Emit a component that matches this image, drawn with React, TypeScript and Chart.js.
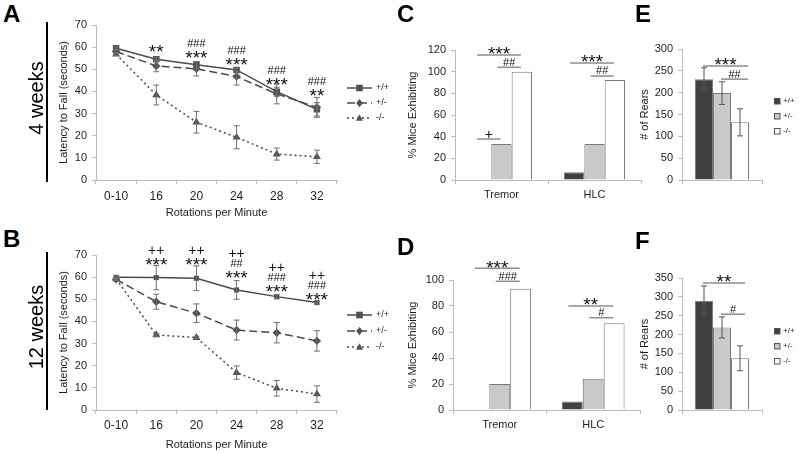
import React, { useEffect, useRef } from 'react';
import { Chart, registerables } from 'chart.js';

Chart.register(...registerables);

const FONT = '"Liberation Sans", Arial, Helvetica, sans-serif';
const AXIS = '#bdbdbd';
const TEXT = '#1e1e1e';
const LINE = '#4a4a4a';
const MARK = '#525252';

// ---------------- data ----------------
const rpmLabels = ['0-10', '16', '20', '24', '28', '32'];
const genotypeLabels = ['+/+', '+/-', '-/-'];

// Panel A (4 weeks) latency to fall
const wk4Wt = [59.5, 54.5, 52.0, 49.7, 39.9, 31.9];
const wk4WtErr = [0.6, 1.0, 1.5, 0.8, 2.0, 3.0];
const wk4Het = [58.0, 51.5, 50.2, 46.7, 38.9, 32.8];
const wk4HetErr = [0.8, 2.6, 3.2, 3.8, 4.5, 4.5];
const wk4Ko = [56.8, 38.4, 26.1, 19.3, 11.7, 10.5];
const wk4KoErr = [0.6, 4.5, 4.9, 5.2, 2.7, 3.0];
const wk4Sig = [[], ['**'], ['###', '***'], ['###', '***'], ['###', '***'], ['###', '**']];
const wk4SigAt = [0, 60.0, 57.3, 54.0, 45.3, 40.2];

// Panel B (12 weeks) latency to fall
const wk12Wt = [59.9, 59.8, 59.5, 54.2, 51.2, 48.5];
const wk12WtErr = [0.5, 5.5, 5.6, 4.2, 1.0, 0.6];
const wk12Het = [59.0, 48.9, 43.7, 36.1, 34.9, 31.2];
const wk12HetErr = [0.5, 3.4, 4.2, 4.5, 4.6, 4.6];
const wk12Ko = [59.2, 33.9, 32.7, 16.9, 9.8, 7.2];
const wk12KoErr = [0.5, 0.6, 0.6, 3.0, 3.5, 3.7];
const wk12Sig = [[], ['++', '***'], ['++', '***'], ['++', '##', '***'], ['++', '###', '***'], ['++', '###', '***']];
const wk12SigAt = [0, 67.7, 67.7, 61.9, 55.5, 51.9];

// Panel C / D (% mice exhibiting)
const phenoLabels = ['Tremor', 'HLC'];
const c4Wt = [0, 7.1];
const c4Het = [33.3, 33.3];
const c4Ko = [100, 92.3];
const c4Brackets = [
  { cat: 0, from: 0, to: 2, at: 115.4, text: '***' },
  { cat: 0, from: 1, to: 2, at: 104, text: '##' },
  { cat: 0, from: 0, to: 1, at: 37.8, text: '+' },
  { cat: 1, from: 0, to: 2, at: 108, text: '***' },
  { cat: 1, from: 1, to: 2, at: 96, text: '##' },
];
const d12Wt = [0, 6.5];
const d12Het = [20, 24];
const d12Ko = [93.3, 66.7];
const d12Brackets = [
  { cat: 0, from: 0, to: 2, at: 109, text: '***' },
  { cat: 0, from: 1, to: 2, at: 99, text: '###' },
  { cat: 1, from: 0, to: 2, at: 80, text: '**' },
  { cat: 1, from: 1, to: 2, at: 71, text: '#' },
];

// Panel E / F (# of rears), by genotype
const rearsCategory = [''];
const e4Rears = [231, 199, 132];
const e4RearsErr = [26, 26, 31];
const e4Brackets = [
  { cat: 0, from: 0, to: 2, at: 261, text: '***' },
  { cat: 0, from: 1, to: 2, at: 231, text: '##' },
];
const f12Rears = [290, 219, 137];
const f12RearsErr = [39, 28, 33];
const f12Brackets = [
  { cat: 0, from: 0, to: 2, at: 337, text: '**' },
  { cat: 0, from: 1, to: 2, at: 254, text: '#' },
];

// ---------------- layout ----------------
type Area = { x1: number; y1: number; x2: number; y2: number };
type Box = { left: number; top: number; width: number; height: number; area: Area };

const boxA: Box = { left: 40, top: 0, width: 380, height: 225, area: { x1: 96, y1: 25, x2: 337, y2: 180 } };
const boxB: Box = { left: 40, top: 228, width: 380, height: 225, area: { x1: 96, y1: 255, x2: 337, y2: 410 } };
const boxC: Box = { left: 400, top: 25, width: 255, height: 200, area: { x1: 455, y1: 50, x2: 641, y2: 180 } };
const boxD: Box = { left: 400, top: 250, width: 255, height: 203, area: { x1: 453, y1: 280, x2: 640, y2: 410 } };
const boxE: Box = { left: 625, top: 25, width: 174, height: 200, area: { x1: 682, y1: 49, x2: 762, y2: 180 } };
const boxF: Box = { left: 625, top: 250, width: 174, height: 203, area: { x1: 682, y1: 278, x2: 762, y2: 410 } };

const BAR_FILLS = ['#404040', '#c9c9c9', '#ffffff'];

function layoutFor(b: Box) {
  return {
    padding: {
      left: 0,
      top: b.area.y1 - b.top,
      right: b.left + b.width - b.area.x2,
      bottom: 0,
    },
  };
}

function yScale(b: Box, max: number, step: number, title: string, titleCx: number) {
  return {
    min: 0,
    max,
    ticks: { stepSize: step, padding: 5, color: TEXT, font: { size: 11, family: FONT } },
    grid: { drawOnChartArea: false, drawTicks: true, tickLength: 4, color: AXIS },
    border: { display: true, color: AXIS, width: 1 },
    title: {
      display: true,
      text: title,
      color: TEXT,
      font: { size: 11, family: FONT },
      padding: { top: titleCx - b.left - 6.6, bottom: 0 },
    },
    afterFit: (s: any) => {
      s.width = b.area.x1 - b.left;
    },
  };
}

function xScale(b: Box, showTicks: boolean, tickPad: number, fontSize: number, title?: string, titleCy?: number) {
  return {
    type: 'category',
    offset: true,
    grid: { offset: true, drawOnChartArea: false, drawTicks: true, tickLength: 4, color: AXIS },
    border: { display: true, color: AXIS, width: 1 },
    ticks: {
      display: showTicks,
      padding: tickPad,
      color: TEXT,
      font: { size: fontSize, family: FONT },
      maxRotation: 0,
      autoSkip: false,
    },
    title: title
      ? {
          display: true,
          text: title,
          color: TEXT,
          font: { size: 11, family: FONT },
          padding: { top: 0, bottom: b.top + b.height - (titleCy as number) - 6.6 },
        }
      : { display: false },
    afterFit: (s: any) => {
      s.height = b.top + b.height - b.area.y2;
    },
  };
}

function drawSig(ctx: CanvasRenderingContext2D, text: string, x: number, cy: number) {
  const ch = text.charAt(0);
  const size = ch === '*' ? 19 : ch === '+' ? 14 : 11;
  const lift = ch === '*' ? 0.575 : 0.36;
  ctx.font = `${size}px ${FONT}`;
  ctx.textAlign = 'center';
  ctx.textBaseline = 'alphabetic';
  ctx.fillStyle = '#111';
  ctx.fillText(text, x, cy + lift * size);
}

function drawMarker(ctx: CanvasRenderingContext2D, style: string, x: number, y: number, r: number) {
  ctx.beginPath();
  if (style === 'rect') {
    ctx.rect(x - r, y - r, 2 * r, 2 * r);
  } else if (style === 'rectRot') {
    ctx.moveTo(x, y - r * 1.25);
    ctx.lineTo(x + r, y);
    ctx.lineTo(x, y + r * 1.25);
    ctx.lineTo(x - r, y);
    ctx.closePath();
  } else {
    ctx.moveTo(x, y - r * 1.15);
    ctx.lineTo(x + r * 1.05, y + r * 0.85);
    ctx.lineTo(x - r * 1.05, y + r * 0.85);
    ctx.closePath();
  }
  ctx.fill();
}

function drawErrBar(ctx: CanvasRenderingContext2D, x: number, yTop: number, yBot: number, cap: number) {
  ctx.beginPath();
  ctx.moveTo(x, yTop);
  ctx.lineTo(x, yBot);
  ctx.moveTo(x - cap, yTop);
  ctx.lineTo(x + cap, yTop);
  ctx.moveTo(x - cap, yBot);
  ctx.lineTo(x + cap, yBot);
  ctx.stroke();
}

function lineExtras(b: Box, errs: number[][], sig: string[][], sigAt: number[], legendX: number, legendYs: number[]) {
  return {
    id: 'lineExtras',
    afterDatasetsDraw(chart: any) {
      const ctx: CanvasRenderingContext2D = chart.ctx;
      const yS = chart.scales.y;
      ctx.save();
      ctx.strokeStyle = '#6e6e6e';
      ctx.lineWidth = 1;
      chart.data.datasets.forEach((ds: any, di: number) => {
        const meta = chart.getDatasetMeta(di);
        (ds.data as number[]).forEach((v, i) => {
          const e = errs[di][i];
          const pt = meta.data[i];
          drawErrBar(ctx, pt.x, yS.getPixelForValue(v + e), yS.getPixelForValue(v - e), 3);
        });
      });
      ctx.restore();
    },
    afterDraw(chart: any) {
      const ctx: CanvasRenderingContext2D = chart.ctx;
      const xS = chart.scales.x;
      const yS = chart.scales.y;
      ctx.save();
      sig.forEach((lines, i) => {
        if (!lines.length) return;
        const x = xS.getPixelForValue(i);
        const base = yS.getPixelForValue(sigAt[i]);
        lines.forEach((t, k) => {
          drawSig(ctx, t, x, base - (lines.length - 1 - k) * 10);
        });
      });
      // legend
      chart.data.datasets.forEach((ds: any, di: number) => {
        const lx = legendX - b.left;
        const ly = legendYs[di] - b.top;
        ctx.strokeStyle = LINE;
        ctx.lineWidth = 1.5;
        ctx.setLineDash(ds.borderDash || []);
        ctx.beginPath();
        ctx.moveTo(lx, ly);
        ctx.lineTo(lx + 25, ly);
        ctx.stroke();
        ctx.setLineDash([]);
        ctx.fillStyle = MARK;
        drawMarker(ctx, ds.pointStyle, lx + 12.5, ly, 3.3);
        ctx.fillStyle = TEXT;
        ctx.font = `9px ${FONT}`;
        ctx.textAlign = 'left';
        ctx.textBaseline = 'middle';
        ctx.fillText(ds.label, lx + 29, ly);
      });
      ctx.restore();
    },
  };
}

type Bracket = { cat: number; from: number; to: number; at: number; text: string };

function barExtras(
  b: Box,
  brackets: Bracket[],
  dx1: number,
  dx2: number,
  errs: number[] | null,
  legendX: number | null,
  legendYs: number[] | null
) {
  return {
    id: 'barExtras',
    afterDatasetsDraw(chart: any) {
      const ctx: CanvasRenderingContext2D = chart.ctx;
      const yS = chart.scales.y;
      ctx.save();
      if (errs) {
        ctx.strokeStyle = '#555';
        ctx.lineWidth = 1;
        chart.data.datasets.forEach((ds: any, di: number) => {
          const el = chart.getDatasetMeta(di).data[0];
          const v = ds.data[0];
          drawErrBar(ctx, el.x, yS.getPixelForValue(v + errs[di]), yS.getPixelForValue(v - errs[di]), 3);
        });
      }
      ctx.restore();
    },
    afterDraw(chart: any) {
      const ctx: CanvasRenderingContext2D = chart.ctx;
      const yS = chart.scales.y;
      ctx.save();
      brackets.forEach((br) => {
        const a = chart.getDatasetMeta(br.from).data[br.cat];
        const c = chart.getDatasetMeta(br.to).data[br.cat];
        const x1 = a.x + dx1;
        const x2 = c.x + dx2;
        const y = yS.getPixelForValue(br.at);
        ctx.strokeStyle = '#8c8c8c';
        ctx.lineWidth = 1.5;
        ctx.beginPath();
        ctx.moveTo(x1, y);
        ctx.lineTo(x2, y);
        ctx.stroke();
        drawSig(ctx, br.text, (x1 + x2) / 2, y - 5.5);
      });
      if (legendX !== null && legendYs) {
        chart.data.datasets.forEach((ds: any, di: number) => {
          const lx = legendX - b.left;
          const ly = legendYs[di] - b.top;
          ctx.fillStyle = ds.backgroundColor;
          ctx.strokeStyle = '#555';
          ctx.lineWidth = 1;
          ctx.fillRect(lx, ly - 3, 6, 6);
          ctx.strokeRect(lx + 0.5, ly - 2.5, 5.5, 5.5);
          ctx.fillStyle = TEXT;
          ctx.font = `8px ${FONT}`;
          ctx.textAlign = 'left';
          ctx.textBaseline = 'middle';
          ctx.fillText(ds.label, lx + 9, ly);
        });
      }
      ctx.restore();
    },
  };
}

function baseOptions(b: Box, scales: any) {
  return {
    responsive: false,
    maintainAspectRatio: false,
    animation: false,
    events: [],
    layout: layoutFor(b),
    plugins: { legend: { display: false }, tooltip: { enabled: false }, title: { display: false } },
    scales,
  };
}

function lineChartConfig(
  b: Box,
  series: number[][],
  errs: number[][],
  sig: string[][],
  sigAt: number[],
  wtRadius: number,
  legendYs: number[]
) {
  const styles = [
    { dash: [], point: 'rect', r: wtRadius },
    { dash: [8, 4], point: 'rectRot', r: 4.2 },
    { dash: [2, 3], point: 'triangle', r: 4.6 },
  ];
  return {
    type: 'line',
    data: {
      labels: rpmLabels,
      datasets: series.map((d, i) => ({
        label: genotypeLabels[i],
        data: d,
        borderColor: LINE,
        borderWidth: 1.5,
        borderDash: styles[i].dash,
        pointStyle: styles[i].point,
        pointRadius: styles[i].r,
        pointBackgroundColor: MARK,
        pointBorderColor: MARK,
        pointBorderWidth: 0,
        tension: 0,
        fill: false,
      })),
    },
    options: baseOptions(b, {
      x: xScale(b, true, b === boxA ? 5 : 4, 12, 'Rotations per Minute', b === boxA ? 213 : 445),
      y: yScale(b, 70, 10, 'Latency to Fall (seconds)', 64),
    }),
    plugins: [lineExtras(b, errs, sig, sigAt, 347, legendYs)],
  };
}

function barChartConfig(
  b: Box,
  labels: string[],
  series: number[][],
  max: number,
  step: number,
  title: string,
  titleCx: number,
  catPct: number,
  showX: boolean,
  brackets: Bracket[],
  dx1: number,
  dx2: number,
  errs: number[] | null,
  legendX: number | null,
  legendYs: number[] | null
) {
  return {
    type: 'bar',
    data: {
      labels,
      datasets: series.map((d, i) => ({
        label: genotypeLabels[i],
        data: d,
        backgroundColor: BAR_FILLS[i],
        borderColor: '#7a7a7a',
        borderWidth: 1,
        categoryPercentage: catPct,
        barPercentage: 1,
      })),
    },
    options: baseOptions(b, {
      x: xScale(b, showX, 4, 11),
      y: yScale(b, max, step, title, titleCx),
    }),
    plugins: [barExtras(b, brackets, dx1, dx2, errs, legendX, legendYs)],
  };
}

const panelLetter = (t: string, left: number, top: number) => (
  <div
    key={t}
    style={{
      position: 'absolute',
      left,
      top,
      font: `bold 24px ${FONT}`,
      lineHeight: '24px',
      color: '#000',
    }}
  >
    {t}
  </div>
);

const weeksLabel = (t: string, cx: number, cy: number) => (
  <div
    key={t}
    style={{
      position: 'absolute',
      left: cx,
      top: cy,
      transform: 'translate(-50%, -50%) rotate(-90deg)',
      font: `20px ${FONT}`,
      lineHeight: '20px',
      whiteSpace: 'nowrap',
      color: '#000',
    }}
  >
    {t}
  </div>
);

export default function App() {
  const rA = useRef<HTMLCanvasElement>(null);
  const rB = useRef<HTMLCanvasElement>(null);
  const rC = useRef<HTMLCanvasElement>(null);
  const rD = useRef<HTMLCanvasElement>(null);
  const rE = useRef<HTMLCanvasElement>(null);
  const rF = useRef<HTMLCanvasElement>(null);

  useEffect(() => {
    Chart.defaults.font.family = FONT;
    Chart.defaults.color = TEXT;
    const charts: Chart[] = [];
    const mk = (ref: any, cfg: any) => {
      if (ref.current) charts.push(new Chart(ref.current, cfg));
    };
    mk(
      rA,
      lineChartConfig(boxA, [wk4Wt, wk4Het, wk4Ko], [wk4WtErr, wk4HetErr, wk4KoErr], wk4Sig, wk4SigAt, 4.6, [88, 103, 118])
    );
    mk(
      rB,
      lineChartConfig(boxB, [wk12Wt, wk12Het, wk12Ko], [wk12WtErr, wk12HetErr, wk12KoErr], wk12Sig, wk12SigAt, 3.6, [315, 331, 347])
    );
    mk(
      rC,
      barChartConfig(boxC, phenoLabels, [c4Wt, c4Het, c4Ko], 120, 20, '% Mice Exhibiting', 413, 0.656, true, c4Brackets, -4, -1, null, null, null)
    );
    mk(
      rD,
      barChartConfig(boxD, phenoLabels, [d12Wt, d12Het, d12Ko], 100, 20, '% Mice Exhibiting', 413, 0.67, true, d12Brackets, -4, -1, null, null, null)
    );
    mk(
      rE,
      barChartConfig(
        boxE,
        rearsCategory,
        e4Rears.map((v) => [v]),
        300,
        50,
        '# of Rears',
        645,
        0.675,
        false,
        e4Brackets,
        -1,
        8,
        e4RearsErr,
        774,
        [101, 116, 131]
      )
    );
    mk(
      rF,
      barChartConfig(
        boxF,
        rearsCategory,
        f12Rears.map((v) => [v]),
        350,
        50,
        '# of Rears',
        645,
        0.675,
        false,
        f12Brackets,
        -1,
        5,
        f12RearsErr,
        774,
        [331, 346, 361]
      )
    );
    return () => charts.forEach((c) => c.destroy());
  }, []);

  const cv = (ref: any, b: Box) => (
    <canvas
      ref={ref}
      width={b.width}
      height={b.height}
      style={{ position: 'absolute', left: b.left, top: b.top, width: b.width, height: b.height }}
    />
  );

  return (
    <div
      style={{
        position: 'absolute',
        left: 0,
        top: 0,
        width: 799,
        height: 453,
        background: '#fff',
        overflow: 'hidden',
        fontFamily: FONT,
      }}
    >
      {cv(rA, boxA)}
      {cv(rB, boxB)}
      {cv(rC, boxC)}
      {cv(rD, boxD)}
      {cv(rE, boxE)}
      {cv(rF, boxF)}
      {panelLetter('A', 3, 2)}
      {panelLetter('B', 3, 227)}
      {panelLetter('C', 397, 2)}
      {panelLetter('D', 397, 235)}
      {panelLetter('E', 635, 2)}
      {panelLetter('F', 635, 229)}
      {weeksLabel('4 weeks', 36, 98)}
      {weeksLabel('12 weeks', 36, 327)}
      <div style={{ position: 'absolute', left: 46, top: 22, width: 2, height: 160, background: '#000' }} />
      <div style={{ position: 'absolute', left: 46, top: 252, width: 2, height: 158, background: '#000' }} />
    </div>
  );
}
